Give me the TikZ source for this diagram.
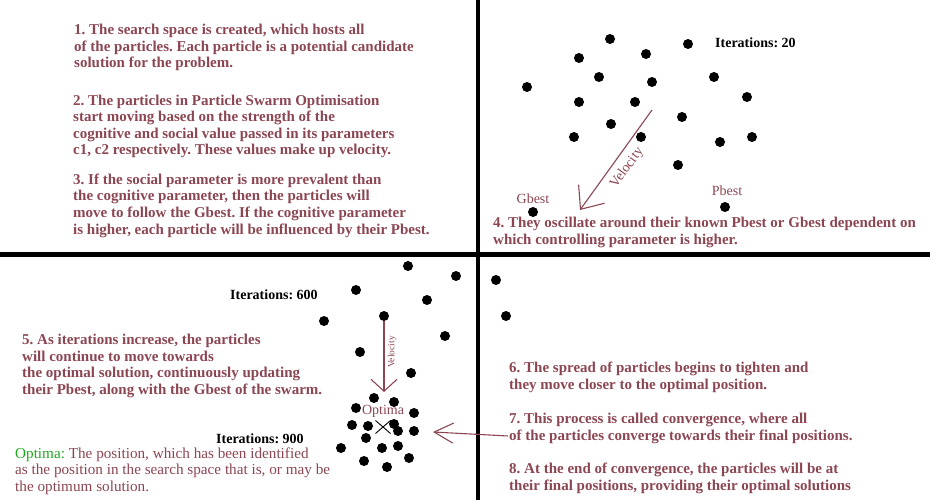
\documentclass[tikz,border=0pt]{standalone}
\usepackage{fontspec}
\setmainfont{Liberation Serif}
\usetikzlibrary{arrows.meta}
\frenchspacing
\definecolor{maroon}{RGB}{140,70,82}
\definecolor{optgreen}{RGB}{30,170,30}
\tikzset{
  para/.style={anchor=base west, align=left, text=maroon, inner sep=0pt,
    font=\fontsize{15}{16.5}\selectfont\bfseries},
  iter/.style={anchor=base west, inner sep=0pt, text=black,
    font=\fontsize{14}{16.5}\selectfont\bfseries},
  lbl/.style={inner sep=0pt, text=maroon, font=\fontsize{14}{14}\selectfont},
  dot/.style={circle, fill=black, inner sep=0pt, minimum size=10pt},
  divider/.style={line width=4.5pt, black},
  conn/.style={maroon, line width=1.1pt},
}
\begin{document}
\begin{tikzpicture}[x=1pt,y=-1pt]
\useasboundingbox (0,0) rectangle (930,500);
% dividers
\coordinate (vt) at (478,0);
\coordinate (vb) at (478,500);
\coordinate (hl) at (0,254.5);
\coordinate (hr) at (930,254.5);
\draw[divider] (vt) -- (vb);
\draw[divider] (hl) -- (hr);

% ---- top-left text (anchor = baseline of last line)
\node[para] (t1) at (74,68) {1. The search space is created, which hosts all\\of the particles. Each particle is a potential candidate\\solution for the problem.};
\node[para] (t2) at (73,155) {2. The particles in Particle Swarm Optimisation\\start moving based on the strength of the\\cognitive and social value passed in its parameters\\c1, c2 respectively. These values make up velocity.};
\node[para] (t3) at (73,234) {3. If the social parameter is more prevalent than\\the cognitive parameter, then the particles will\\move to follow the Gbest. If the cognitive parameter\\is higher, each particle will be influenced by their Pbest.};

% ---- top-right
\node[iter] (it20) at (715,48) {Iterations: 20};
\foreach \n/\x/\y in {a1/610/39, a2/688/44, a3/579/58, a4/646/54, a5/599/77,
  a6/652/82, a7/714/77, a8/527/87, a9/747/97, a10/579/102, a11/635/102,
  a12/611/124, a13/682/117, a14/574/137, a15/641/137, a16/720/142,
  a17/752/137, a18/678/165}
  \node[dot] (\n) at (\x,\y) {};
\node[dot] (gbest) at (533,212) {};
\node[dot] (pbest) at (725,207) {};
\node[lbl, anchor=base] (gbl) at (533,204) {Gbest};
\node[lbl, anchor=base] (pbl) at (727,196) {Pbest};
\coordinate (v1s) at (652,110);
\coordinate (v1e) at (580,210);
\draw[conn, -{Straight Barb[length=19pt,width=32pt]}] (v1s) -- (v1e);
\node[lbl, rotate=54] (vel1) at (627,168) {Velocity};
\node[para] (t4) at (493,244) {4. They oscillate around their known Pbest or Gbest dependent on\\which controlling parameter is higher.};

% ---- bottom-left
\node[iter] (it600) at (230,299) {Iterations: 600};
\node[iter] (it900) at (216,443) {Iterations: 900};
\foreach \n/\x/\y in {b1/408/266, b2/456/276, b3/356/290, b4/427/300,
  b5/384/316, b6/324/321, b7/445/336, b8/360/352, b9/411/373,
  c1/374/398, c2/394/402, c3/356/408, c4/414/413, c5/352/425, c6/368/426,
  c7/394/424, c8/398/431, c9/414/431, c10/366/438, c11/382/448, c12/398/446,
  c13/341/448, c14/409/458, c15/364/461, c16/387/467, d1/496/280, d2/506/316}
  \node[dot] (\n) at (\x,\y) {};
\coordinate (v2e) at (384,392);
\draw[conn, -{Straight Barb[length=12pt,width=26pt]}] (b5) -- (v2e);
\node[lbl, rotate=90, font=\fontsize{9.5}{10}\selectfont] (vel2) at (392,352) {Velocity};
\node[lbl] (optl) at (383,411) {Optima};
\coordinate (xc) at (383,427);
\draw[black, line width=0.9pt] ([shift={(-7.5,-6.5)}]xc) -- ([shift={(7.5,6.5)}]xc)
  ([shift={(-7.5,6.5)}]xc) -- ([shift={(7.5,-6.5)}]xc);
\node[para] (t5) at (22,394) {5. As iterations increase, the particles\\will continue to move towards\\the optimal solution, continuously updating\\their Pbest, along with the Gbest of the swarm.};
\node[para, font=\fontsize{15.2}{16.5}\selectfont] (topt) at (15,491) {\textcolor{optgreen}{Optima:} The position, which has been identified\\as the position in the search space that is, or may be\\the optimum solution.};

% ---- bottom-right
\node[para] (t6) at (509,389) {6. The spread of particles begins to tighten and\\they move closer to the optimal position.};
\node[para] (t7) at (509,440) {7. This process is called convergence, where all\\of the particles converge towards their final positions.};
\node[para] (t8) at (509,490) {8. At the end of convergence, the particles will be at\\their final positions, providing their optimal solutions};
\coordinate (a7s) at (508,436);
\coordinate (a7e) at (433,432);
\draw[conn, -{Straight Barb[length=19pt,width=20pt]}] (a7s) -- (a7e);
\end{tikzpicture}
\end{document}
